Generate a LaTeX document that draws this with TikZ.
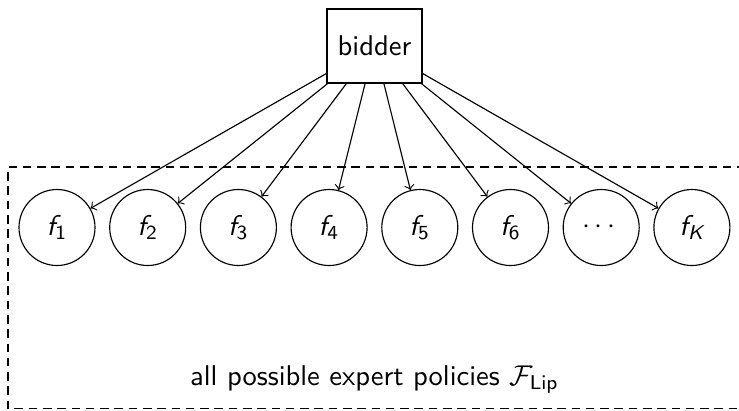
\documentclass[tikz,border=0pt]{standalone}
\usepackage{amsmath}
\usetikzlibrary{arrows}
% sans italic f without italic correction, so the index sits close
\newcommand{\fsf}{\mbox{\sffamily\itshape f}}
\newcommand{\Ksf}{\text{\sffamily\itshape K}}
\begin{document}
\begin{tikzpicture}[x=0.35pt,y=-0.35pt,font=\sffamily,
  expert/.style={draw,circle,minimum size=76*0.35pt,inner sep=0pt},
  agent/.style={draw,rectangle,minimum width=95*0.35pt,minimum height=74*0.35pt,inner sep=0pt},
  link/.style={->}]
\useasboundingbox (0,0) rectangle (739,410);
\clip (0,0) rectangle (739,410);
% pool of experts
\draw[densely dashed] (760,167) -- (8,167) -- (8,408.5) -- (760,408.5);
\node[agent] (bidder) at (374.5,46) {bidder};
\foreach \i/\lab in {1/$\fsf_{\mathsf{1}}$,2/$\fsf_{\mathsf{2}}$,3/$\fsf_{\mathsf{3}}$,4/$\fsf_{\mathsf{4}}$,5/$\fsf_{\mathsf{5}}$,6/$\fsf_{\mathsf{6}}$,7/$\cdots$,8/$\fsf_{\Ksf}$}{
  \node[expert] (f\i) at ({57+90.7*(\i-1)},227.5) {\lab};
  \draw[link] (bidder) -- (f\i);
}
\node[anchor=base] (pool) at (374.5,385) {all possible expert policies $\mathcal{F}_{\mathsf{Lip}}$};
\end{tikzpicture}
\end{document}
